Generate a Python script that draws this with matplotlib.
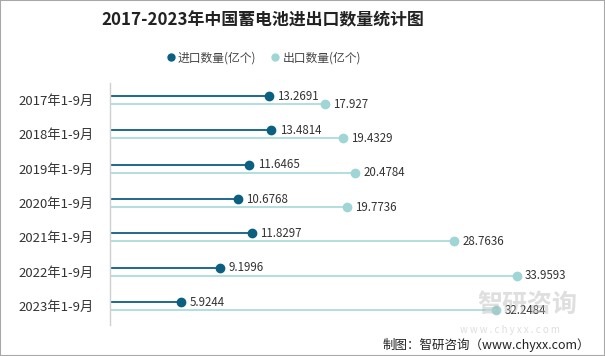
import matplotlib
matplotlib.use("Agg")
import matplotlib.pyplot as plt
from matplotlib.patches import Rectangle
from matplotlib.lines import Line2D

plt.rcParams['font.family'] = ['Noto Sans CJK SC', 'DejaVu Sans']

# Data
years = ["2017年1-9月", "2018年1-9月", "2019年1-9月", "2020年1-9月",
         "2021年1-9月", "2022年1-9月", "2023年1-9月"]
imports = [13.2691, 13.4814, 11.6465, 10.6768, 11.8297, 9.1996, 5.9244]
exports = [17.927, 19.4329, 20.4784, 19.7736, 28.7636, 33.9593, 32.2484]
import_labels = ["13.2691", "13.4814", "11.6465", "10.6768", "11.8297", "9.1996", "5.9244"]
export_labels = ["17.927", "19.4329", "20.4784", "19.7736", "28.7636", "33.9593", "32.2484"]

c_imp = "#0b5f80"
c_exp = "#9fd5d5"
W, H = 605, 356

fig = plt.figure(figsize=(W / 100, H / 100), dpi=100)
fig.patches.append(Rectangle((0, 0), 1, 1, transform=fig.transFigure,
                             fill=False, edgecolor="#a8a8a8", linewidth=1.5))

# axes placed in pixel terms
left, right, top, bottom = 110, 589, 83, 325
ax = fig.add_axes([left / W, 1 - bottom / H, (right - left) / W, (bottom - top) / H])

off = 8 / 34.33
for i in range(len(years)):
    ax.plot([0, imports[i]], [i, i], color=c_imp, lw=1.3, solid_capstyle="butt")
    ax.plot(imports[i], i, "o", color=c_imp, ms=6)
    ax.annotate(import_labels[i], (imports[i], i), xytext=(6, 0), textcoords="offset points",
                va="center", ha="left", fontsize=8.3, color="#333333")
    ax.plot([0, exports[i]], [i + off, i + off], color=c_exp, lw=1.1, solid_capstyle="butt")
    ax.plot(exports[i], i + off, "o", color=c_exp, ms=6)
    ax.annotate(export_labels[i], (exports[i], i + off), xytext=(6, 0), textcoords="offset points",
                va="center", ha="left", fontsize=8.3, color="#333333")

ax.set_xlim(0, 40)
ax.set_ylim(6.67, -0.38)
for s in ["top", "right", "bottom"]:
    ax.spines[s].set_visible(False)
ax.spines["left"].set_color("#d0d0d0")
ax.spines["left"].set_linewidth(1)
ax.set_xticks([])
ax.set_yticks([i + off / 2 for i in range(len(years))])
ax.set_yticklabels(years, fontsize=9.5, color="#333333")
ax.tick_params(axis="y", length=0, pad=12)

fig.text(263 / W, 1 - 20 / H, "2017-2023年中国蓄电池进出口数量统计图", ha="center", va="center",
         fontsize=12.2, fontweight="bold", color="#222222")

handles = [Line2D([], [], marker="o", ls="", color=c_imp, ms=5),
           Line2D([], [], marker="o", ls="", color=c_exp, ms=5)]
fig.legend(handles, ["进口数量(亿个)", "出口数量(亿个)"], loc="center",
           bbox_to_anchor=(263 / W, 1 - 58 / H), ncol=2, frameon=False, fontsize=8.5,
           handletextpad=0.1, columnspacing=1.1, handlelength=1, labelcolor="#444444")

# watermark
fig.text(527 / W, 1 - 305 / H, "智研咨询", ha="center", va="center", fontsize=18,
         color="#b8b8b8", alpha=0.45, fontweight="bold")
fig.text(510 / W, 1 - 330 / H, "w w w . c h y x x . c o m", ha="center", va="center",
         fontsize=7, color="#c8c8c8", alpha=0.6)
fig.text(590 / W, 1 - 345 / H, "制图：智研咨询（www.chyxx.com）", ha="right", va="center",
         fontsize=9, color="#222222")

fig.savefig("out.png", dpi=100)
